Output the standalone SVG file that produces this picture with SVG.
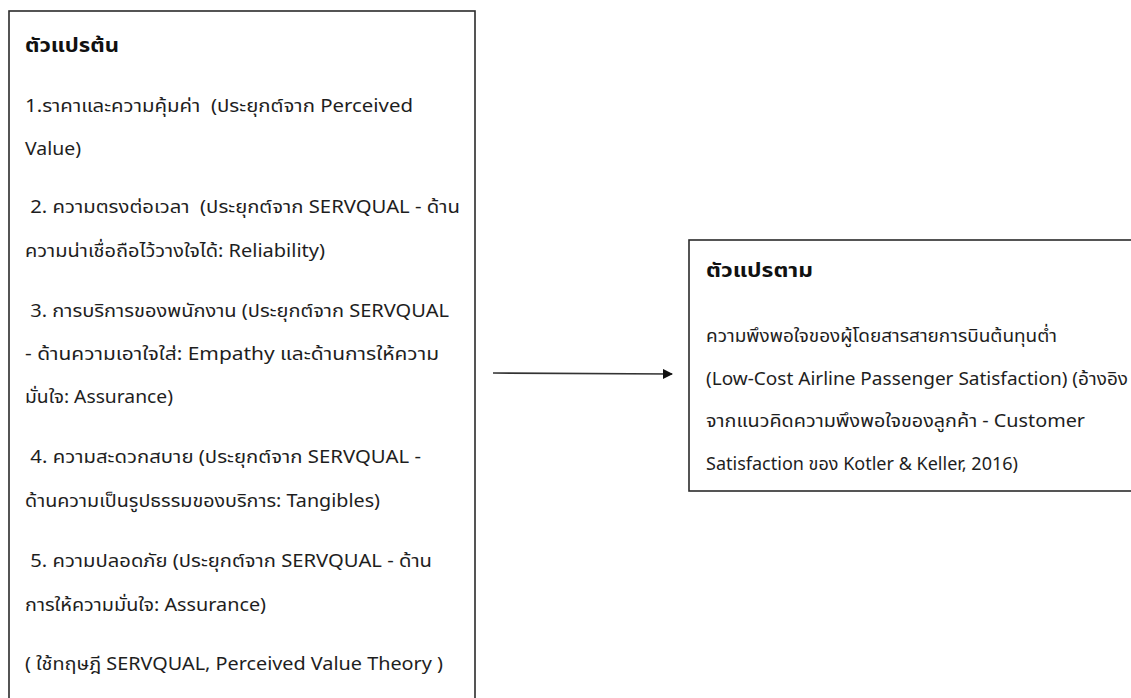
<svg xmlns="http://www.w3.org/2000/svg" width="1131" height="698" viewBox="0 0 1131 698">
<style>
.box{fill:#fff;stroke:#2b2b2b;stroke-width:1.6}
.t{font-family:"Noto Sans","Noto Sans Thai","Leelawadee UI",Tahoma,sans-serif;font-size:18px;fill:#1e1e1e;white-space:pre}
.h{font-family:"Noto Sans","Noto Sans Thai","Leelawadee UI",Tahoma,sans-serif;font-size:20px;font-weight:bold;fill:#111}
.c{stroke:#333;stroke-width:1.6;fill:none}
</style>
<defs>
<marker id="ah" markerWidth="10" markerHeight="10" refX="9" refY="5" orient="auto" markerUnits="userSpaceOnUse">
<path d="M0,0 L10,5 L0,10 Z" fill="#111"/>
</marker>
</defs>
<rect width="1131" height="698" fill="#fff"/>
<g id="independent">
<rect class="box" x="9" y="11" width="466" height="700"/>
<text class="h" x="25" y="52" textLength="94" lengthAdjust="spacingAndGlyphs">ตัวแปรต้น</text>
<text class="t" x="25" y="112" textLength="388" lengthAdjust="spacingAndGlyphs">1.ราคาและความคุ้มค่า  (ประยุกต์จาก Perceived</text>
<text class="t" x="25" y="155" textLength="56" lengthAdjust="spacingAndGlyphs">Value)</text>
<text class="t" x="25" y="213" textLength="435" lengthAdjust="spacingAndGlyphs"> 2. ความตรงต่อเวลา  (ประยุกต์จาก SERVQUAL - ด้าน</text>
<text class="t" x="25" y="257" textLength="300" lengthAdjust="spacingAndGlyphs">ความน่าเชื่อถือไว้วางใจได้: Reliability)</text>
<text class="t" x="25" y="317" textLength="424" lengthAdjust="spacingAndGlyphs"> 3. การบริการของพนักงาน (ประยุกต์จาก SERVQUAL</text>
<text class="t" x="25" y="360" textLength="414" lengthAdjust="spacingAndGlyphs">- ด้านความเอาใจใส่: Empathy และด้านการให้ความ</text>
<text class="t" x="25" y="403" textLength="148" lengthAdjust="spacingAndGlyphs">มั่นใจ: Assurance)</text>
<text class="t" x="25" y="463" textLength="396" lengthAdjust="spacingAndGlyphs"> 4. ความสะดวกสบาย (ประยุกต์จาก SERVQUAL -</text>
<text class="t" x="25" y="507" textLength="355" lengthAdjust="spacingAndGlyphs">ด้านความเป็นรูปธรรมของบริการ: Tangibles)</text>
<text class="t" x="25" y="567" textLength="407" lengthAdjust="spacingAndGlyphs"> 5. ความปลอดภัย (ประยุกต์จาก SERVQUAL - ด้าน</text>
<text class="t" x="25" y="611" textLength="241" lengthAdjust="spacingAndGlyphs">การให้ความมั่นใจ: Assurance)</text>
<text class="t" x="25" y="670" textLength="418" lengthAdjust="spacingAndGlyphs">( ใช้ทฤษฎี SERVQUAL, Perceived Value Theory )</text>
</g>
<g id="dependent">
<rect class="box" x="689" y="240" width="460" height="251"/>
<text class="h" x="706" y="277" textLength="107" lengthAdjust="spacingAndGlyphs">ตัวแปรตาม</text>
<text class="t" x="706" y="342" textLength="351" lengthAdjust="spacingAndGlyphs">ความพึงพอใจของผู้โดยสารสายการบินต้นทุนต่ำ</text>
<text class="t" x="706" y="385" textLength="422" lengthAdjust="spacingAndGlyphs">(Low-Cost Airline Passenger Satisfaction) (อ้างอิง</text>
<text class="t" x="706" y="427" textLength="379" lengthAdjust="spacingAndGlyphs">จากแนวคิดความพึงพอใจของลูกค้า - Customer</text>
<text class="t" x="706" y="470" textLength="312" lengthAdjust="spacingAndGlyphs">Satisfaction ของ Kotler &amp; Keller, 2016)</text>
</g>
<g id="connectors">
<line class="c" x1="493" y1="373" x2="672" y2="374" marker-end="url(#ah)"/>
</g>
</svg>
